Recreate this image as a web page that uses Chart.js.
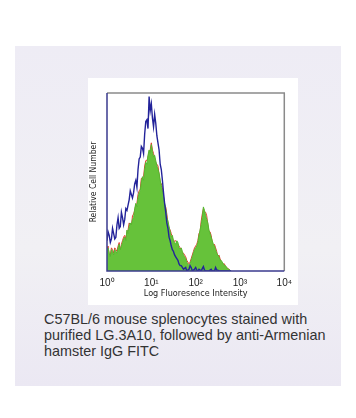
<!DOCTYPE html>
<html>
<head>
<meta charset="utf-8">
<script src="https://cdn.jsdelivr.net/npm/chart.js@4/dist/chart.umd.min.js"></script>
<style>
  html, body { margin: 0; padding: 0; background: #ffffff; width: 356px; height: 418px; overflow: hidden; }
  #panel { position: absolute; left: 15px; top: 46px; width: 326px; height: 340px;
           background: linear-gradient(180deg, #eeecf5 0%, #f1f0f4 60%, #ebe8f3 100%); }
  #card { position: absolute; left: 88px; top: 78px; width: 210px; height: 227px; background: #ffffff; }
  #caption { position: absolute; left: 44px; top: 311px; width: 305px; font-family: "Liberation Sans", Arial, sans-serif;
             font-size: 14.4px; line-height: 16px; color: #333333; }
</style>
</head>
<body>
<div id="panel"></div>
<div id="card"><canvas id="c" width="210" height="227"></canvas></div>
<div id="caption">C57BL/6 mouse splenocytes stained with<br>purified LG.3A10, followed by anti-Armenian<br>hamster IgG FITC</div>
<script>
// log10 fluorescence bin positions (decades), 0.025 decade bins from 10^0 to 10^2.8
const logIntensity = [
  0,0.025,0.05,0.075,0.1,0.125,0.15,0.175,0.2,0.225,0.25,0.275,0.3,0.325,0.35,0.375,0.4,0.425,0.45,0.475,
  0.5,0.525,0.55,0.575,0.6,0.625,0.65,0.675,0.7,0.725,0.75,0.775,0.8,0.825,0.85,0.875,0.9,0.925,0.95,0.975,
  1.0,1.025,1.05,1.075,1.1,1.125,1.15,1.175,1.2,1.225,1.25,1.275,1.3,1.325,1.35,1.375,1.4,1.425,1.45,1.475,
  1.5,1.525,1.55,1.575,1.6,1.625,1.65,1.675,1.7,1.725,1.75,1.775,1.8,1.825,1.85,1.875,1.9,1.925,1.95,1.975,
  2.0,2.025,2.05,2.075,2.1,2.125,2.15,2.175,2.2,2.225,2.25,2.275,2.3,2.325,2.35,2.375,2.4,2.425,2.45,2.475,
  2.5,2.525,2.55,2.575,2.6,2.625,2.65,2.675,2.7,2.725,2.75,2.775,2.8];
// stained sample (green fill), relative cell number %
const stained = [
  11,13,10,8,12,11,9,12,11,10,13,15,12,14,16,18,19,17,23,21,
  25,27,26,29,30,35,38,36,41,44,45,50,53,51,57,61,60,65,68,66,
  71,67,64,65,62,59,57,55,51,48,45,42,38,35,30,28,25,22,19,20,
  17,16,15,17,16,13,12,13,11,9,8,7,5,4,3,4,6,8,10,12,
  13,14,16,20,23,26,30,36,34,31,29,27,23,21,19,17,15,14,12,10,
  9,8,6,6,5,4,3,3,2,1,1,0.5,0];
// replicate sample outline (red)
const replicate = [
  12,14,9,9,13,12,10,13,12,11,14,16,11,15,17,19,20,18,22,23,
  27,26,25,31,32,34,37,38,43,45,46,52,52,53,59,62,62,64,67,68,
  72,68,66,63,61,60,59,54,50,49,47,41,37,36,32,27,24,23,21,19,
  16,17,17,16,15,14,13,12,10,10,9,8,6,5,4,5,7,9,11,13,
  14,15,17,21,22,28,32,35,33,33,31,26,22,22,20,16,14,15,13,11,
  8,9,7,5,4,4,4,2,2,1.5,1,0.5,0];
// isotype control (blue line)
const control = [
  17,22,20,16,18,24,21,18,19,26,30,24,25,33,30,26,29,35,34,37,
  40,45,43,41,44,49,51,47,57,63,64,70,69,66,77,84,85,80,98,90,
  94,86,81,88,83,76,72,68,60,57,51,44,38,33,27,24,19,17,14,12,
  11,9,8,7,6,4,3,3,2,1,1.5,2,0,0.5,1,3,2,0,0.5,1,
  2,0.5,0,1,0.5,0,1.3,2.5,0.5,0,0,0,0,0.5,1,0,0,0,2,0.5,
  0.5,0,0,0,0,0,0,0,0,0,0,0,0];
const tickLabels = ['10\u2070','10\u00B9','10\u00B2','10\u00B3','10\u2074'];

const pts = arr => arr.map((v, i) => ({x: logIntensity[i], y: v}));

const frame = {
  id: 'frame',
  afterDatasetsDraw(chart) {
    const a = chart.chartArea, ctx = chart.ctx;
    ctx.save();
    ctx.lineWidth = 1.5;
    ctx.strokeStyle = '#8a8a8a';
    ctx.beginPath();
    ctx.moveTo(a.left, a.top); ctx.lineTo(a.right, a.top); ctx.lineTo(a.right, a.bottom);
    ctx.stroke();
    ctx.strokeStyle = '#3b3b8f';
    ctx.beginPath();
    ctx.moveTo(a.left, a.top); ctx.lineTo(a.left, a.bottom); ctx.lineTo(a.right, a.bottom);
    ctx.stroke();
    ctx.restore();
  }
};

new Chart(document.getElementById('c'), {
  type: 'line',
  data: {
    datasets: [
      { label: 'control', data: pts(control), borderColor: '#23239a', borderWidth: 1.4, pointRadius: 0, fill: false, tension: 0, order: 1 },
      { label: 'replicate', data: pts(replicate), borderColor: '#e03a2a', borderWidth: 1, pointRadius: 0, fill: false, tension: 0, order: 3 },
      { label: 'stained', data: pts(stained), borderColor: '#55b830', backgroundColor: '#66c23a', borderWidth: 1, pointRadius: 0, fill: 'origin', tension: 0, order: 2 }
    ]
  },
  options: {
    responsive: false,
    animation: false,
    events: [],
    layout: { padding: { top: 15, right: 9, left: 0, bottom: 0 } },
    plugins: { legend: { display: false }, tooltip: { enabled: false } },
    scales: {
      x: {
        type: 'linear', min: 0, max: 4,
        grid: { display: false, drawTicks: false },
        border: { display: false },
        ticks: { stepSize: 1, padding: 6, maxRotation: 0, color: '#222',
                 font: { family: 'Liberation Sans', size: 10 },
                 callback: v => tickLabels[v] },
        title: { display: true, text: 'Log Fluoresence Intensity', color: '#222', padding: { top: 0, bottom: 6 },
                 font: { family: 'DejaVu Sans Condensed', size: 9 } },
        afterFit: s => { s.height = 34; }
      },
      y: {
        min: 0, max: 100,
        grid: { display: false, drawTicks: false },
        border: { display: false },
        ticks: { display: false },
        title: { display: true, text: 'Relative Cell Number', color: '#222', padding: { top: 1, bottom: 0 },
                 font: { family: 'DejaVu Sans Condensed', size: 8.5 } },
        afterFit: s => { s.width = 19; }
      }
    }
  },
  plugins: [frame]
});
</script>
</body>
</html>
